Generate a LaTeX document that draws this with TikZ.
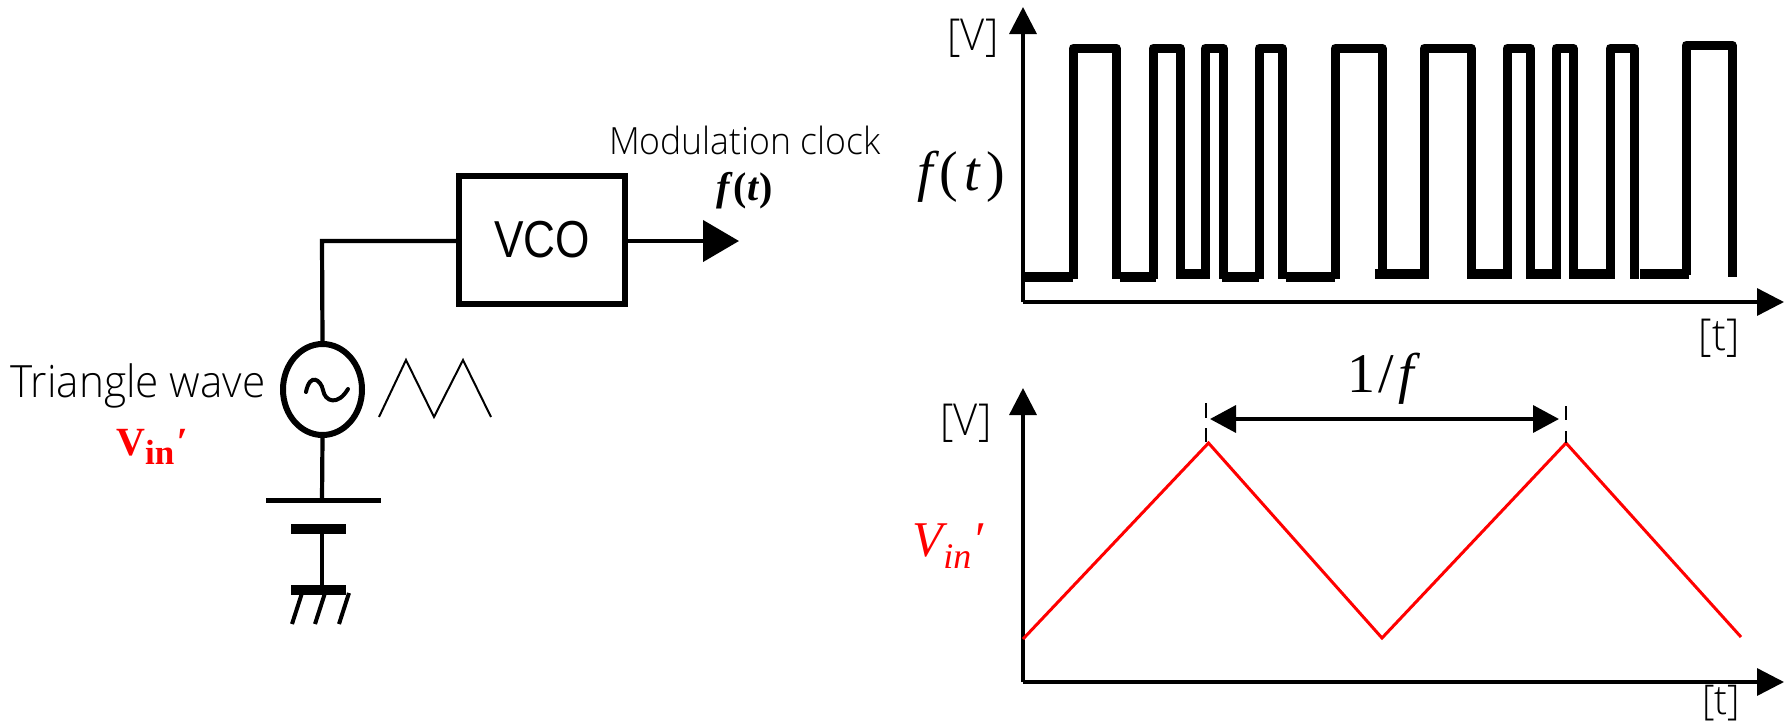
\documentclass[tikz,border=0pt]{standalone}
\usepackage{fontspec}
\setmainfont{Liberation Sans}
\newfontfamily\labelfont[FakeStretch=0.95]{Open Sans Light}
\newfontfamily\boxfont[FakeStretch=0.85]{Liberation Sans}
\newfontfamily\serifb{Liberation Serif}
\usetikzlibrary{arrows.meta,shapes.geometric}
\definecolor{vred}{RGB}{255,0,0}
\tikzset{
  wire/.style={draw=black,line width=4.2pt},
  axisline/.style={draw=black,line width=3.4pt,-{Triangle[length=27pt,width=27pt]}},
  pulse/.style={draw=black,line width=9pt,line join=round},
  lowthick/.style={draw=black,line width=9.5pt},
  plate/.style={draw=black,line width=10pt},
  wave/.style={draw=vred,line width=3pt,line join=miter},
  tickdash/.style={draw=black,line width=2.4pt},
  lbl/.style={inner sep=0pt,font=\labelfont\fontsize{37.5}{40}\selectfont},
  unitlbl/.style={inner sep=0pt,font=\labelfont\fontsize{44}{46}\selectfont},
  mathlbl/.style={inner sep=0pt,font=\serifb\fontsize{56}{60}\selectfont},
}
\begin{document}
\begin{tikzpicture}[x=1pt,y=-1pt]
\useasboundingbox (0,0) rectangle (1791,726);
% circuit
\node[draw=black,line width=6pt,minimum width=166pt,minimum height=128pt,inner sep=0pt,font=\boxfont\fontsize{52}{54}\selectfont] (vco) at (542,240) {VCO};
\node[ellipse,draw=black,line width=6pt,minimum width=79pt,minimum height=91pt,inner sep=0pt] (src) at (322.5,389.5) {};
\coordinate (corner) at (322,241);
\coordinate (out) at (739,241);
\coordinate (plateA) at (322,500);
\draw[wire] (src.north) -- (corner) -- (corner -| vco.west);
\draw[wire,-{Triangle[length=36pt,width=41pt]}] (vco.east |- out) -- (out);
\draw[wire] (src.south) -- (plateA);
\coordinate (plateAl) at (266,500);
\coordinate (plateAr) at (381,500);
\draw[line width=5pt] (plateAl) -- (plateAr);
\coordinate (plateBl) at (291,529);
\coordinate (plateBr) at (346,529);
\coordinate (plateCl) at (291,590);
\coordinate (plateCr) at (346,590);
\draw[plate] (plateBl) -- (plateBr);
\draw[plate] (plateCl) -- (plateCr);
\draw[wire] (322,529) -- (322,590);
\foreach \a/\b in {302/292,325/315,349/339}{\draw[line width=4pt] (\a,593) -- (\b,624);}
% tilde in source
\draw[line width=4pt,line cap=round] (306,392) .. controls (310,372) and (321,380) .. (323,390) .. controls (325,402) and (338,406) .. (348,389);
% small triangle sketch
\draw[line width=2pt] (379,417) -- (406,360) -- (434,417) -- (463,360) -- (491,417);
% labels left
\node[inner sep=0pt,font=\labelfont\fontsize{44.5}{46}\selectfont] (tri) at (138,386) {Triangle wave};
\node[inner sep=0pt,text=vred,font=\serifb\bfseries\fontsize{40}{42}\selectfont] (vinl) at (152,447) {V\raisebox{-0.22em}{\fontsize{35}{37}\selectfont in}\hspace{0.06em}{\itshape ′}};
\node[lbl] (mod) at (745,140) {Modulation clock};
\node[inner sep=0pt,font=\serifb\bfseries\fontsize{40}{42}\selectfont] (ftb) at (745,191) {{\itshape f}\hspace{3pt}(\hspace{1pt}{\itshape t}\hspace{1pt})};
% top chart
\coordinate (o1) at (1023,302);
\draw[axisline] (o1) -- (1023,7);
\draw[axisline] (o1) -- (1784,302);
\foreach \a/\b in {1073/1116,1153/1180,1205/1223,1259/1282,1335/1382,1424/1471,1507/1530,1556/1573,1610/1634}{
  \draw[pulse] (\a,279) -- (\a,48) -- (\b,48) -- (\b,279);}
\draw[pulse] (1686,275) -- (1686,45) -- (1732,45) -- (1732,277);
\foreach \a/\b in {1023/1073,1120/1156,1222/1259,1286/1335}{\draw[lowthick] (\a,277) -- (\b,277);}
\foreach \a/\b in {1184/1210,1375/1424,1471/1511,1530/1553,1576/1613,1640/1689}{\draw[lowthick] (\a,274) -- (\b,274);}
\node[unitlbl] (v1) at (973,38) {[V]};
\node[mathlbl] (ft) at (961,177) {{\itshape f}\hspace{7pt}(\hspace{6pt}{\itshape t}\hspace{6pt})};
\node[unitlbl] (t1) at (1719,338) {[t]};
% bottom chart
\coordinate (o2) at (1023,682);
\draw[axisline] (o2) -- (1023,388);
\draw[axisline] (o2) -- (1784,682);
\coordinate (p1) at (1023,639);
\coordinate (p2) at (1208.5,443);
\coordinate (p3) at (1382,638);
\coordinate (p4) at (1566,443);
\coordinate (p5) at (1741,637);
\draw[wave] (p1) -- (p2) -- (p3) -- (p4) -- (p5);
\coordinate (d1a) at (1206,403);
\coordinate (d1b) at (1206,418);
\coordinate (d1c) at (1206,428);
\coordinate (d1d) at (1206,442);
\coordinate (d2a) at (1566,406);
\coordinate (d2b) at (1566,420);
\coordinate (d2c) at (1566,431);
\coordinate (d2d) at (1566,443);
\draw[tickdash] (d1a) -- (d1b) (d1c) -- (d1d) (d2a) -- (d2b) (d2c) -- (d2d);
\coordinate (ml) at (1210,419);
\coordinate (mr) at (1559,419);
\draw[line width=3.6pt,{Triangle[length=26pt,width=27pt]}-{Triangle[length=26pt,width=27pt]}] (ml) -- (mr);
\node[unitlbl] (v2) at (966,423) {[V]};
\node[inner sep=0pt,font=\labelfont\fontsize{41}{43}\selectfont] (t2) at (1721,703) {[t]};
\node[mathlbl] (oof) at (1381,379) {1\hspace{3pt}/\hspace{4pt}{\itshape f}};
\node[inner sep=0pt,text=vred,font=\serifb\itshape\fontsize{50}{54}\selectfont] (vin) at (948,546) {V\raisebox{-0.25em}{\fontsize{36}{38}\selectfont in}\hspace{1pt}′};
\end{tikzpicture}
\end{document}
